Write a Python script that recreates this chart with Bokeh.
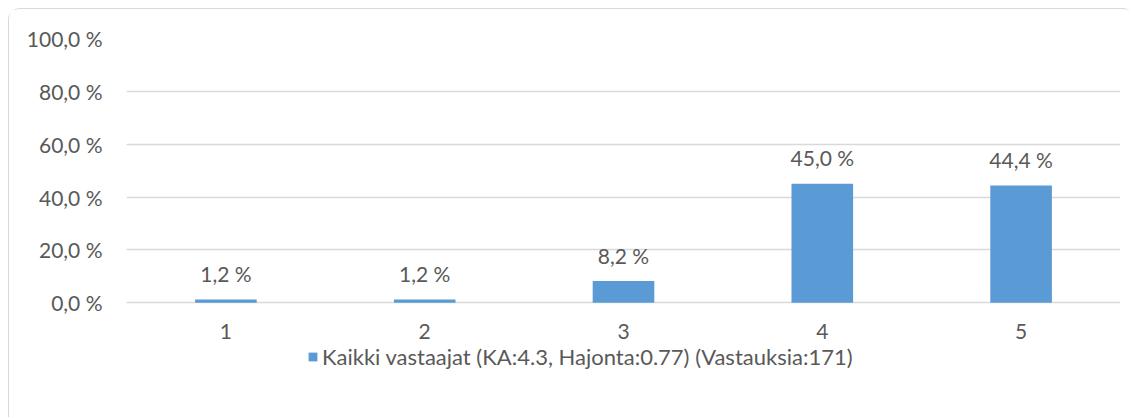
from bokeh.plotting import figure
from bokeh.models import (ColumnDataSource, FactorRange, Range1d, FixedTicker,
                          Legend, LegendItem)
from bokeh.core.properties import value
from bokeh.embed import file_html
from bokeh.resources import INLINE

categories = ["1", "2", "3", "4", "5"]
percentages = [1.2, 1.2, 8.2, 45.0, 44.4]
y_ticks = [0, 20, 40, 60, 80, 100]
y_tick_labels = ["0,0 %", "20,0 %", "40,0 %", "60,0 %", "80,0 %", "100,0 %"]
series_name = "Kaikki vastaajat (KA:4.3, Hajonta:0.77) (Vastauksia:171)"

FONT = "Lato"
TEXT = "#595959"
BAR = "#5B9BD5"
GRID = "#D9D9D9"
FS = "21px"

labels = [f"{v:.1f} %".replace(".", ",") for v in percentages]
src = ColumnDataSource(dict(cat=categories, val=percentages, lab=labels,
                            base=[0] * len(categories)))

p = figure(width=1127, height=409, output_backend="svg", toolbar_location=None,
           x_range=FactorRange(factors=categories, range_padding=0),
           y_range=Range1d(-40, 100),
           min_border_left=117, min_border_right=16, min_border_top=29,
           min_border_bottom=10)
p.margin = (8, 0, 0, 8)
p.styles = {"border-top": "1px solid #D9D9D9", "border-left": "1px solid #D9D9D9",
            "border-top-left-radius": "12px", "border-top-right-radius": "12px"}
p.outline_line_color = None
p.background_fill_color = "white"
p.border_fill_color = "white"

bars = p.vbar(x="cat", top="val", width=0.31, source=src, fill_color=BAR,
              line_color=None)
# value labels above bars
p.text(x="cat", y="val", text="lab", source=src, text_align="center",
       text_baseline="middle", y_offset=-26, text_color=TEXT,
       text_font=value(FONT), text_font_size=FS)
# category labels below the zero line
p.text(x="cat", y="base", text="cat", source=src, text_align="center",
       text_baseline="middle", y_offset=29, text_color=TEXT,
       text_font=value(FONT), text_font_size=FS)

p.xaxis.visible = False
p.xgrid.grid_line_color = None
p.ygrid.grid_line_color = GRID
p.ygrid.grid_line_width = 1.5
p.yaxis.ticker = FixedTicker(ticks=y_ticks)
p.yaxis.major_label_overrides = {t: l for t, l in zip(y_ticks, y_tick_labels)}
p.yaxis.major_tick_line_color = None
p.yaxis.minor_tick_line_color = None
p.yaxis.major_label_text_font = FONT
p.yaxis.major_label_text_font_size = FS
p.yaxis.major_label_text_color = TEXT
p.yaxis.axis_line_color = None
p.yaxis.major_label_standoff = 18

legend = Legend(items=[LegendItem(label=series_name, renderers=[bars])],
                location=(181, 38), padding=0, margin=0, glyph_width=11,
                glyph_height=11, label_standoff=4, border_line_color=None,
                background_fill_alpha=0, label_text_font=FONT,
                label_text_font_size="22px", label_text_color=TEXT)
p.add_layout(legend, "center")

open("out.html", "w").write(file_html(p, INLINE))
